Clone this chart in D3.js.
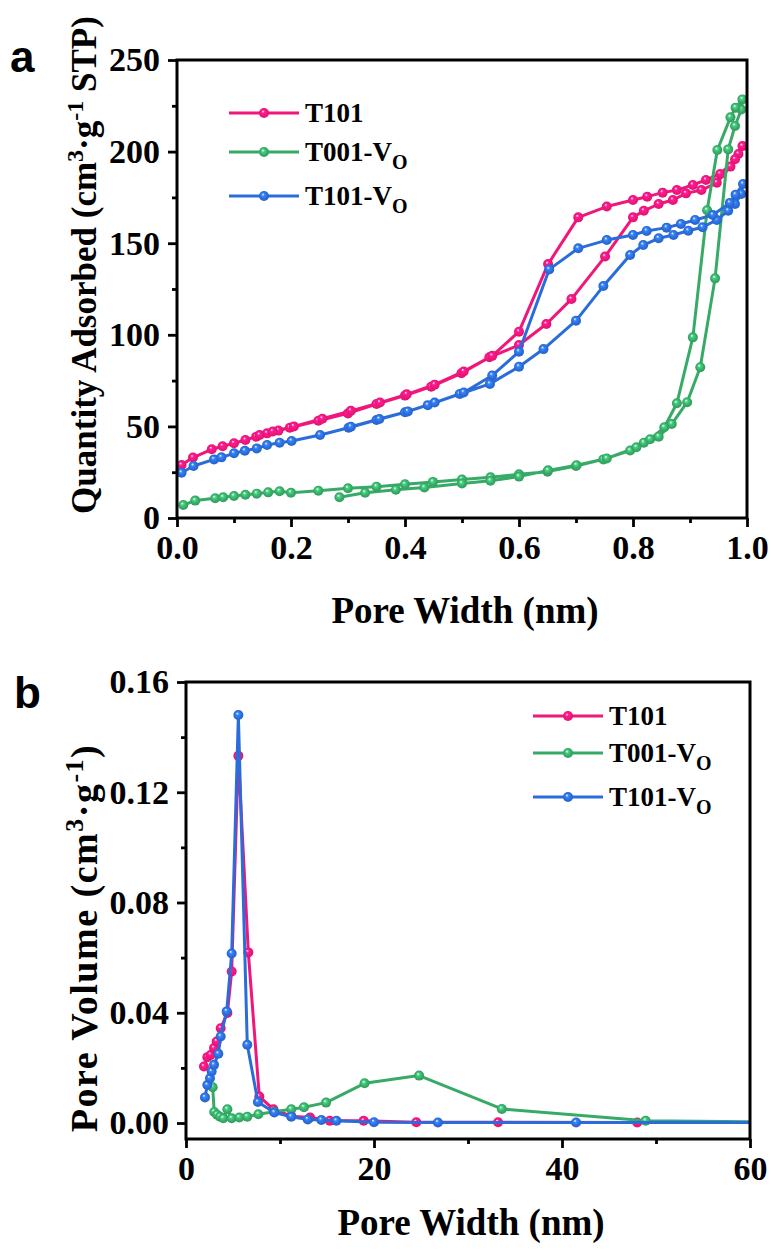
<!DOCTYPE html>
<html>
<head>
<meta charset="utf-8">
<script src="https://cdn.jsdelivr.net/npm/d3@7"></script>
<style>
  body { margin: 0; background: #fff; }
  text { font-family: "Liberation Serif", "Times New Roman", serif; font-weight: bold; }
</style>
</head>
<body>
<div id="chart"></div>
<script>
// series names + colours
const seriesNames = ["T101", "T001-V", "T101-V"];
const seriesSub = ["", "O", "O"];
const seriesColors = ["#f0167a", "#38aa68", "#2b6cdb"];

// panel a : isotherms, [relative pressure, quantity adsorbed]
const t101Ads = [[0.008,28.9],[0.028,33.0],[0.061,37.5],[0.080,39.2],[0.100,40.8],[0.120,42.6],[0.139,44.4],[0.158,46.2],[0.178,47.7],[0.198,49.3],[0.248,53.1],[0.300,57.1],[0.350,62.2],[0.400,66.8],[0.446,71.7],[0.499,79.0],[0.548,87.7],[0.600,94.4],[0.648,105.9],[0.692,119.5],[0.751,142.7],[0.800,164.1],[0.819,167.7],[0.845,171.4],[0.870,173.6],[0.893,177.2],[0.920,179.0],[0.947,183.0],[0.971,191.8],[0.985,198.7],[0.992,203.0]];
const t101Des = [[0.979,195.8],[0.953,187.8],[0.928,184.5],[0.905,181.8],[0.877,179.0],[0.852,177.6],[0.825,175.4],[0.800,173.6],[0.754,170.0],[0.704,164.1],[0.651,138.6],[0.600,101.7],[0.553,88.5],[0.503,80.0],[0.452,72.8],[0.403,67.5],[0.356,63.0],[0.305,58.5],[0.255,54.2],[0.205,50.0],[0.168,47.2],[0.145,45.3]];
const t001Ads = [[0.011,7.1],[0.032,9.5],[0.067,10.8],[0.081,11.3],[0.100,12.0],[0.120,12.7],[0.140,13.3],[0.160,14.0],[0.180,14.6],[0.200,13.8],[0.248,14.9],[0.300,16.2],[0.350,17.1],[0.400,18.4],[0.449,19.7],[0.500,21.0],[0.550,22.2],[0.600,23.9],[0.650,25.3],[0.700,28.4],[0.748,32.0],[0.795,36.8],[0.819,41.1],[0.845,44.4],[0.868,51.3],[0.895,63.2],[0.918,82.3],[0.944,130.8],[0.967,201.2],[0.979,214.0],[0.990,223.0],[0.992,228.5]];
const t001Des = [[0.980,224.0],[0.971,218.7],[0.948,200.9],[0.930,168.0],[0.905,98.6],[0.877,62.6],[0.855,49.5],[0.830,43.0],[0.806,38.6],[0.754,32.5],[0.701,28.8],[0.651,26.0],[0.600,22.6],[0.550,20.3],[0.500,18.8],[0.434,16.6],[0.384,15.4],[0.330,13.8],[0.285,11.3]];
const t101VoAds = [[0.008,24.7],[0.029,28.4],[0.065,32.0],[0.078,33.1],[0.100,35.3],[0.119,36.7],[0.140,38.0],[0.158,39.8],[0.180,41.1],[0.201,42.0],[0.251,45.3],[0.301,49.3],[0.350,53.5],[0.400,57.7],[0.440,61.6],[0.496,67.7],[0.549,73.2],[0.600,82.6],[0.643,92.2],[0.700,107.7],[0.748,126.6],[0.795,143.6],[0.818,149.0],[0.845,152.7],[0.871,154.5],[0.897,156.8],[0.922,158.7],[0.947,162.7],[0.967,167.7],[0.979,171.4],[0.990,176.9],[0.993,182.3]];
const t101VoDes = [[0.980,176.5],[0.970,172.0],[0.940,165.4],[0.909,162.7],[0.884,160.5],[0.859,158.5],[0.824,156.7],[0.800,154.5],[0.754,151.7],[0.704,147.2],[0.653,135.7],[0.600,90.8],[0.553,77.8],[0.503,68.5],[0.452,63.0],[0.405,58.2],[0.355,54.0],[0.305,49.8]];

// panel b : pore size distribution, [pore width, pore volume]
const t101Psd = [[1.91,0.0205],[2.27,0.0239],[2.62,0.0247],[2.98,0.0272],[3.26,0.0296],[3.69,0.0344],[4.40,0.0399],[4.86,0.0550],[5.57,0.1332],[6.63,0.0619],[7.80,0.0096],[9.30,0.0050],[11.2,0.0025],[13.2,0.0020],[15.3,0.0008],[18.9,0.0008],[24.5,0.0003],[33.2,0.0003],[48.0,0.0002]];
const t001VoPsd = [[2.84,0.0130],[3.00,0.0040],[3.30,0.0030],[3.62,0.0023],[3.97,0.0017],[4.40,0.0050],[4.86,0.0017],[5.67,0.0020],[6.52,0.0023],[7.70,0.0032],[9.36,0.0041],[11.2,0.0050],[12.55,0.0057],[14.9,0.0074],[19.0,0.0144],[24.8,0.0172],[33.6,0.0051],[48.9,0.0008],[75.0,0.0000]];
const t101VoPsd = [[2.02,0.0093],[2.27,0.0138],[2.55,0.0162],[2.73,0.0187],[2.98,0.0211],[3.44,0.0251],[3.69,0.0314],[4.33,0.0405],[4.86,0.0615],[5.57,0.1480],[6.52,0.0284],[7.65,0.0076],[9.40,0.0038],[11.2,0.0023],[12.95,0.0013],[14.4,0.0011],[16.0,0.0008],[20.0,0.0003],[26.8,0.0002],[41.5,0.0002],[75.0,0.0001]];

// ticks
const aXTicks = [0, 0.2, 0.4, 0.6, 0.8, 1.0];
const aXMinor = [0.1, 0.3, 0.5, 0.7, 0.9];
const aYTicks = [0, 50, 100, 150, 200, 250];
const aYMinor = [25, 75, 125, 175, 225];
const bXTicks = [0, 20, 40, 60];
const bXMinor = [10, 30, 50];
const bYTicks = [0, 0.04, 0.08, 0.12, 0.16];
const bYMinor = [0.02, 0.06, 0.10, 0.14];

const svg = d3.select("#chart").append("svg")
    .attr("width", 775)
    .attr("height", 1251);

// shiny marker gradients
const defs = svg.append("defs");
seriesColors.forEach((c, i) => {
    const g = defs.append("radialGradient")
        .attr("id", "ball" + i)
        .attr("cx", "50%").attr("cy", "50%").attr("r", "55%")
        .attr("fx", "38%").attr("fy", "32%");
    g.append("stop").attr("offset", "0%").attr("stop-color", "#ffffff");
    g.append("stop").attr("offset", "28%").attr("stop-color", d3.color(c).brighter(0.6));
    g.append("stop").attr("offset", "65%").attr("stop-color", c);
    g.append("stop").attr("offset", "100%").attr("stop-color", d3.color(c).darker(0.3));
});

const drawPanel = (opt) => {
    const x = d3.scaleLinear().domain(opt.xDomain).range(opt.xRange);
    const y = d3.scaleLinear().domain(opt.yDomain).range(opt.yRange);
    const g = svg.append("g");

    const clipId = "clip" + opt.id;
    defs.append("clipPath").attr("id", clipId)
        .append("rect")
        .attr("x", opt.xRange[0]).attr("y", opt.yRange[1])
        .attr("width", opt.xRange[1] - opt.xRange[0])
        .attr("height", opt.yRange[0] - opt.yRange[1]);

    const line = d3.line().x(d => x(d[0])).y(d => y(d[1]));
    const plot = g.append("g").attr("clip-path", `url(#${clipId})`);

    opt.series.forEach((pts, i) => {
        plot.append("path")
            .datum(pts)
            .attr("d", line)
            .attr("fill", "none")
            .attr("stroke", seriesColors[i])
            .attr("stroke-width", 3)
            .attr("stroke-linejoin", "round");
        plot.append("g").selectAll("circle")
            .data(pts)
            .enter().append("circle")
            .attr("cx", d => x(d[0]))
            .attr("cy", d => y(d[1]))
            .attr("r", 5)
            .attr("fill", `url(#ball${i})`);
    });

    // axes
    g.append("g")
        .attr("transform", `translate(0,${opt.yRange[0]})`)
        .call(d3.axisBottom(x).tickValues(opt.xTicks).tickSize(9).tickSizeOuter(0).tickPadding(8).tickFormat(opt.xFmt));
    g.append("g")
        .attr("transform", `translate(0,${opt.yRange[0]})`)
        .call(d3.axisBottom(x).tickValues(opt.xMinor).tickSize(5).tickSizeOuter(0).tickFormat(""));
    g.append("g")
        .attr("transform", `translate(${opt.xRange[0]},0)`)
        .call(d3.axisLeft(y).tickValues(opt.yTicks).tickSize(9).tickSizeOuter(0).tickPadding(8).tickFormat(opt.yFmt));
    g.append("g")
        .attr("transform", `translate(${opt.xRange[0]},0)`)
        .call(d3.axisLeft(y).tickValues(opt.yMinor).tickSize(5).tickSizeOuter(0).tickFormat(""));

    g.selectAll(".domain").remove();
    g.selectAll(".tick line").attr("stroke", "#000").attr("stroke-width", 2.8);
    g.selectAll(".tick text")
        .style("font-family", "'Liberation Serif', 'Times New Roman', serif")
        .style("font-weight", "bold")
        .style("font-size", "34px")
        .attr("fill", "#000");

    // frame
    g.append("rect")
        .attr("x", opt.xRange[0]).attr("y", opt.yRange[1])
        .attr("width", opt.xRange[1] - opt.xRange[0])
        .attr("height", opt.yRange[0] - opt.yRange[1])
        .attr("fill", "none")
        .attr("stroke", "#000")
        .attr("stroke-width", 3);

    // x title
    g.append("text")
        .attr("x", (opt.xRange[0] + opt.xRange[1]) / 2 + 3)
        .attr("y", opt.xTitleY)
        .attr("text-anchor", "middle")
        .style("font-size", "37px")
        .text("Pore Width (nm)");

    // y title with superscripts
    const yt = g.append("text")
        .attr("transform", `translate(${opt.yTitleX},${opt.yTitleY}) rotate(-90)`)
        .attr("text-anchor", "middle")
        .style("font-size", opt.yTitleSize + "px")
        .style("letter-spacing", opt.yTitleSpacing + "px");
    opt.yTitle.forEach(p => {
        const t = yt.append("tspan").text(p[0]);
        if (p[1]) t.attr("baseline-shift", "super").style("font-size", Math.round(opt.yTitleSize * 0.68) + "px");
    });

    // panel letter
    g.append("text")
        .attr("x", opt.letterX).attr("y", opt.letterY)
        .style("font-family", "'Liberation Sans', Arial, sans-serif")
        .style("font-size", "44px")
        .text(opt.letter);

    // legend
    const leg = g.append("g");
    seriesNames.forEach((name, i) => {
        const ly = opt.legY[i];
        leg.append("line")
            .attr("x1", opt.legX).attr("x2", opt.legX + 70)
            .attr("y1", ly).attr("y2", ly)
            .attr("stroke", seriesColors[i]).attr("stroke-width", 3);
        leg.append("circle")
            .attr("cx", opt.legX + 35).attr("cy", ly).attr("r", 5)
            .attr("fill", `url(#ball${i})`);
        const t = leg.append("text")
            .attr("x", opt.legX + 76).attr("y", ly + 9)
            .style("font-size", "27px")
            .text(name);
        if (seriesSub[i]) {
            t.append("tspan")
                .attr("dy", 8)
                .style("font-size", "20px")
                .text(seriesSub[i]);
        }
    });
};

drawPanel({
    id: "a",
    xDomain: [0, 1], xRange: [177, 747],
    yDomain: [0, 250], yRange: [518, 60],
    xTicks: aXTicks, xMinor: aXMinor, yTicks: aYTicks, yMinor: aYMinor,
    xFmt: d3.format(".1f"), yFmt: d3.format("d"),
    series: [t101Ads.concat(t101Des), t001Ads.concat(t001Des), t101VoAds.concat(t101VoDes)],
    xTitleY: 623,
    yTitle: [["Quantity Adsorbed (cm"], ["3", true], ["·g"], ["-1", true], [" STP)"]],
    yTitleX: 96, yTitleY: 265, yTitleSize: 35, yTitleSpacing: 0,
    letter: "a", letterX: 10, letterY: 72,
    legX: 229, legY: [113, 152, 196]
});

drawPanel({
    id: "b",
    xDomain: [0, 60], xRange: [186, 750],
    yDomain: [-0.0058, 0.16], yRange: [1139, 682],
    xTicks: bXTicks, xMinor: bXMinor, yTicks: bYTicks, yMinor: bYMinor,
    xFmt: d3.format("d"), yFmt: d3.format(".2f"),
    series: [t101Psd, t001VoPsd, t101VoPsd],
    xTitleY: 1235,
    yTitle: [["Pore Volume (cm"], ["3", true], ["·g"], ["-1", true], [")"]],
    yTitleX: 97, yTitleY: 938, yTitleSize: 38, yTitleSpacing: 1.5,
    letter: "b", letterX: 14, letterY: 708,
    legX: 533, legY: [716, 753, 797]
});
</script>
</body>
</html>
